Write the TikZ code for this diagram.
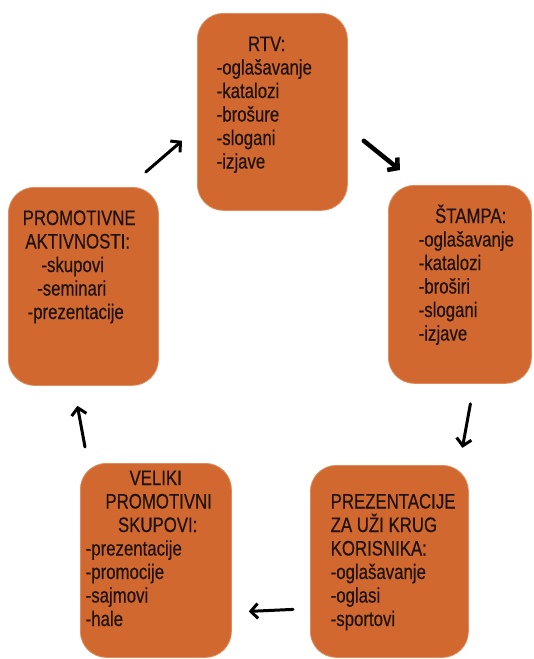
\documentclass[tikz,border=0pt]{standalone}
\usepackage{fontspec}
\newfontfamily\boxfont{Liberation Sans}[FakeStretch=0.80,FakeBold=0.4]
\usetikzlibrary{arrows.meta,calc}
\definecolor{boxfill}{RGB}{208,104,48}
\definecolor{boxedge}{RGB}{224,140,92}
\definecolor{txtcol}{RGB}{30,18,12}
\newcommand\LL[2]{\hbox to 0pt{\hskip #1pt #2\hss}}
\newcommand\LC[2]{\hbox to 0pt{\hskip #1pt\hbox to 0pt{\hss #2\hss}\hss}}
\newcommand\Stack[1]{\vtop{\baselineskip=23.5pt\lineskiplimit=-1000pt\lineskip=0pt #1}}
\tikzset{
  box/.style={draw=boxedge, line width=0.8pt, fill=boxfill, rounded corners=26pt,
    inner sep=0pt, anchor=north west},
  txt/.style={inner sep=0pt, anchor=base west, text=txtcol,
    font=\boxfont\fontsize{21}{23.5}\selectfont},
  arr/.style={line width=3pt, line cap=round, -{Straight Barb[length=7pt,width=15pt]}},
  bigarr/.style={line width=4.5pt, line cap=round, -{Straight Barb[length=7pt,width=16pt]}}
}
\begin{document}
\begin{tikzpicture}[x=1pt,y=-1pt]
\fill[white] (0,0) rectangle (534,659);
\useasboundingbox (0,0) rectangle (534,659);

\node[box, minimum width=150pt, minimum height=197pt] (rtv) at (197,13) {};
\node[box, minimum width=143pt, minimum height=198pt] (stampa) at (388,185) {};
\node[box, minimum width=150pt, minimum height=198pt] (promo) at (8,187) {};
\node[box, minimum width=151pt, minimum height=194pt] (veliki) at (80,463) {};
\node[box, minimum width=158pt, minimum height=192pt] (prez) at (310,465) {};

\node[txt] (rtv-t) at ($(rtv.north west)+(0,38)$) {\Stack{%
  \LC{69}{RTV:}
  \LL{19}{-oglašavanje}
  \LL{19}{-katalozi}
  \LL{19}{-brošure}
  \LL{19}{-slogani}
  \LL{19}{-izjave}}};

\node[txt] (stampa-t) at ($(stampa.north west)+(0,38)$) {\Stack{%
  \LC{82}{ŠTAMPA:}
  \LL{30}{-oglašavanje}
  \LL{30}{-katalozi}
  \LL{30}{-broširi}
  \LL{30}{-slogani}
  \LL{30}{-izjave}}};

\node[txt] (promo-t) at ($(promo.north west)+(0,38)$) {\Stack{%
  \LC{70.5}{PROMOTIVNE}
  \LC{69}{AKTIVNOSTI:}
  \LC{64}{-skupovi}
  \LC{63}{-seminari}
  \LC{67}{-prezentacije}}};

\node[txt] (veliki-t) at ($(veliki.north west)+(0,22)$) {\Stack{%
  \LC{75}{VELIKI}
  \LC{78}{PROMOTIVNI}
  \LC{77}{SKUPOVI:}
  \LL{5}{-prezentacije}
  \LL{5}{-promocije}
  \LL{5}{-sajmovi}
  \LL{5}{-hale}}};

\node[txt] (prez-t) at ($(prez.north west)+(0,43.5)$) {\Stack{%
  \LL{20}{PREZENTACIJE}
  \LL{20}{ZA UŽI KRUG}
  \LL{20}{KORISNIKA:}
  \LL{20}{-oglašavanje}
  \LL{20}{-oglasi}
  \LL{20}{-sportovi}}};

\coordinate (a1s) at ($(promo.north east)+(-13,-15)$);
\coordinate (a1e) at ($(rtv.south west)+(-15,-70)$);
\coordinate (a2s) at ($(rtv.south east)+(16,-70)$);
\coordinate (a2e) at ($(stampa.north west)+(12,-15)$);
\coordinate (a3s) at ($(stampa.south)+(10.5,20)$);
\coordinate (a3e) at ($(stampa.south)+(2.5,64)$);
\coordinate (a4s) at ($(prez.west)+(-17,48)$);
\coordinate (a4e) at ($(veliki.east)+(17,51)$);
\coordinate (a5s) at ($(veliki.north west)+(5,-16)$);
\coordinate (a5e) at ($(promo.south)+(-6,20)$);

\draw[arr] (a1s) -- (a1e);
\draw[bigarr] (a2s) -- (a2e);
\draw[arr] (a3s) -- (a3e);
\draw[arr] (a4s) -- (a4e);
\draw[arr] (a5s) -- (a5e);
\end{tikzpicture}
\end{document}
